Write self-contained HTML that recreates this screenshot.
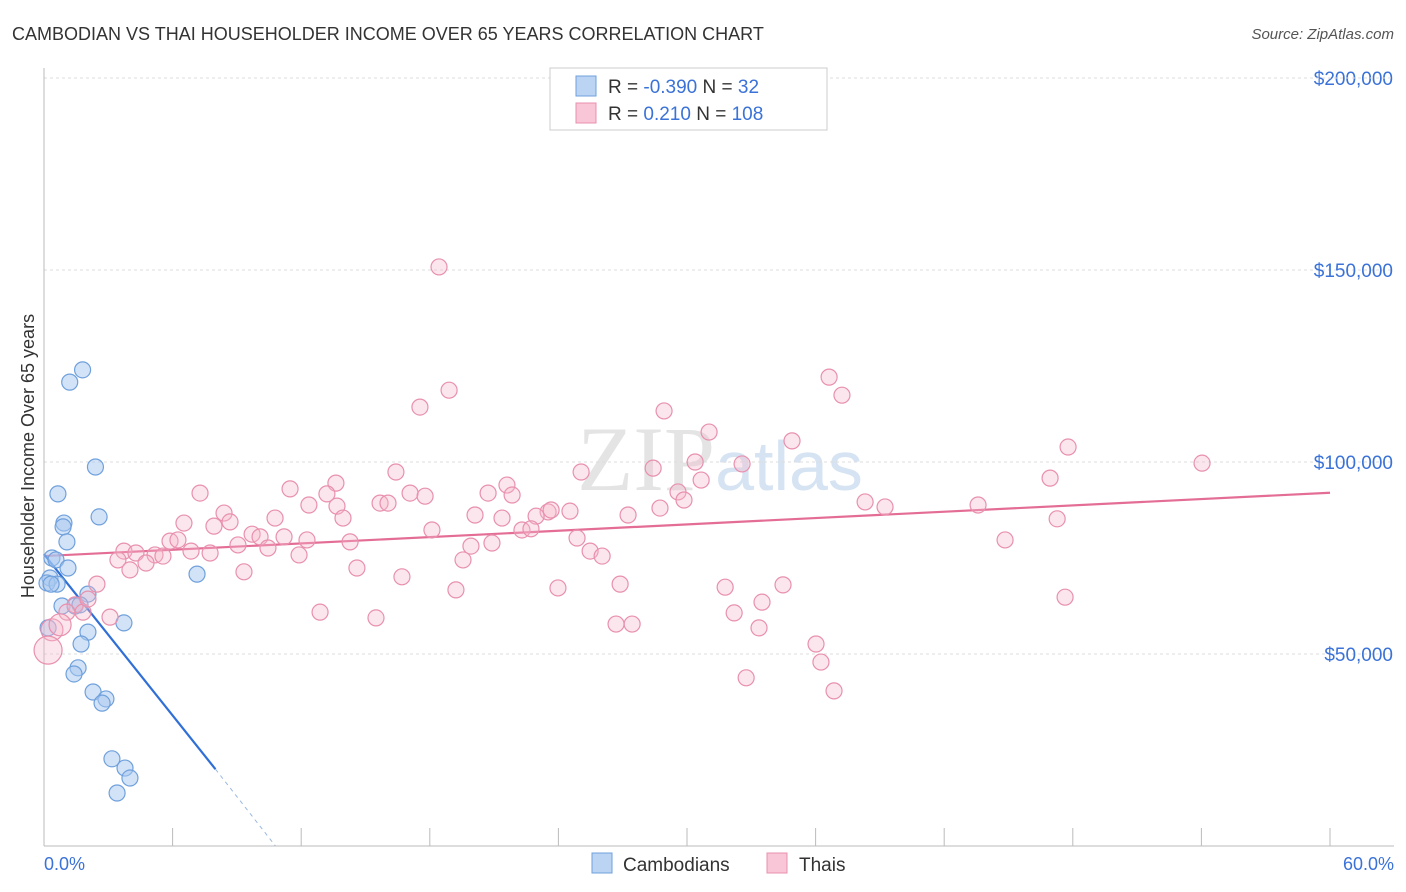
<!DOCTYPE html>
<html><head><meta charset="utf-8">
<style>
body{margin:0;background:#fff;font-family:"Liberation Sans",sans-serif;}
svg{display:block}
</style></head>
<body>
<svg id="chart" width="1406" height="892">
<text x="12" y="40" font-size="18" fill="#333">CAMBODIAN VS THAI HOUSEHOLDER INCOME OVER 65 YEARS CORRELATION CHART</text>
<text x="1394" y="39" font-size="15" fill="#555" font-style="italic" text-anchor="end">Source: ZipAtlas.com</text>
<text x="720" y="490" font-size="92" fill="#e4e4e4" text-anchor="middle" font-family="Liberation Serif">ZIP<tspan fill="#d5e3f3" font-family="Liberation Sans" font-size="70">atlas</tspan></text>
<g id="grid"></g><g id="axes"></g><g id="lines"></g><g id="pts"></g>
<text transform="translate(34,456) rotate(-90)" font-size="18" fill="#333" text-anchor="middle">Householder Income Over 65 years</text>
<text x="44" y="870" font-size="18" fill="#3a72d8">0.0%</text>
<text x="1394" y="870" font-size="18" fill="#3a72d8" text-anchor="end">60.0%</text>
<g>
<rect x="550" y="68" width="277" height="62" fill="#fff" stroke="#ccc"/>
<rect x="576" y="76" width="20" height="20" fill="#bcd4f4" stroke="#6fa0dc"/>
<text x="608" y="93" font-size="19" fill="#333">R = <tspan fill="#3a72d8">-0.390</tspan>   N =  <tspan fill="#3a72d8">32</tspan></text>
<rect x="576" y="103" width="20" height="20" fill="#f8c6d6" stroke="#e890ad"/>
<text x="608" y="120" font-size="19" fill="#333">R =  <tspan fill="#3a72d8"> 0.210</tspan>   N = <tspan fill="#3a72d8">108</tspan></text>
</g>
<g>
<rect x="592" y="853" width="20" height="20" fill="#bcd4f4" stroke="#6fa0dc"/>
<text x="623" y="871" font-size="19" fill="#333">Cambodians</text>
<rect x="767" y="853" width="20" height="20" fill="#f8c6d6" stroke="#e890ad"/>
<text x="799" y="871" font-size="19" fill="#333">Thais</text>
</g>
</svg>
<script>
const yTicks=[50000,100000,150000,200000];
const yTickLabels=["$50,000","$100,000","$150,000","$200,000"];
const xTicks=[0,6,12,18,24,30,36,42,48,54,60];
const camX=[1.8,1.2,2.4,0.65,2.57,0.93,0.89,1.07,0.37,0.56,1.12,0.28,0.14,0.61,0.33,7.14,2.05,0.84,1.45,1.68,3.73,2.05,0.19,1.73,1.59,1.40,2.29,2.89,2.71,3.17,3.78,4.01,3.41];
const camY=[124000,120800,98700,91700,85700,84100,83100,79200,75000,74500,72400,69800,68500,68200,68200,70800,65600,62500,62500,62800,58100,55700,56800,52600,46400,44800,40100,38300,37200,22700,20300,17700,13800];
const thaiX=[18.43,18.90,17.54,36.63,37.23,28.93,31.03,34.90,47.78,54.03,32.57,30.38,28.42,25.06,16.42,46.94,30.66,13.62,21.60,7.28,11.48,13.20,17.08,17.78,20.72,21.84,29.58,29.86,8.40,12.36,13.67,15.68,16.05,38.31,39.24,43.58,28.74,24.54,23.52,23.66,22.96,20.11,21.37,27.25,10.78,13.95,6.53,7.93,8.68,18.10,22.30,22.72,9.71,11.20,12.27,14.28,24.87,47.27,44.84,5.88,6.25,10.08,9.05,10.45,20.90,19.92,3.73,4.29,5.18,5.55,6.86,7.75,11.90,25.48,26.04,19.55,4.76,3.45,14.60,9.33,16.70,2.47,4.01,26.88,23.98,31.78,34.48,19.22,47.64,12.88,33.50,32.20,15.49,26.69,27.44,3.08,1.45,1.82,2.05,1.07,33.36,36.02,36.25,32.76,36.86,0.37,0.19,0.75];
const thaiY=[150800,118700,114300,122100,117400,113300,107800,105500,103900,99700,99500,100000,98400,97400,97400,95800,95300,94500,94000,91900,93000,91700,91900,91100,91900,91400,92200,90100,86700,88800,88500,89300,89300,89600,88300,88800,88000,87200,87000,87500,85900,86200,85400,86200,85400,85400,84100,83300,84400,82300,82300,82600,81200,80500,79700,79200,80200,85200,79700,79400,79700,80500,78400,77600,78900,78100,76800,76300,75800,75500,76800,76300,75800,76800,75500,74500,73700,74500,72400,71400,70100,68200,71900,68200,67200,67400,68000,66700,64800,60900,63500,60700,59400,57800,57800,59600,62800,60900,64300,60900,56800,52600,47900,43800,40400,56300,51000,57600];
const thaiR=[];thaiY.forEach((v,i)=>thaiR.push(i===106?14:(i===105||i===107?11:8)));
const thaiTrend=[75500,92000];
const camTrend=[76000,20000,0];
const camTrendX=[0,8,10.8];
const NS="http://www.w3.org/2000/svg";
const X0=44,X1=1330,Y0=846,PX=192/50000;
const sx=v=>X0+(v/60)*(X1-X0), sy=v=>Y0-v*PX;
function mk(tag,attrs,parent){const e=document.createElementNS(NS,tag);for(const k in attrs)e.setAttribute(k,attrs[k]);document.getElementById(parent).appendChild(e);return e;}
yTicks.forEach((t,i)=>{
 const l=mk('line',{x1:44,x2:1394,y1:sy(t),y2:sy(t),stroke:'#ddd','stroke-dasharray':'3,3'},'grid');
 
 
 const tx=mk('text',{x:1393,y:sy(t)+7,'font-size':19,fill:'#3a72d8','text-anchor':'end'},'grid');
 tx.textContent=yTickLabels[i];
 
 
});
const tg=mk('line',{x1:44,x2:1394,y1:78,y2:78,stroke:'#ddd','stroke-dasharray':'3,3'},'grid');


const ya=mk('line',{x1:44,x2:44,y1:68,y2:846,stroke:'#bbb'},'axes');


const xa=mk('line',{x1:44,x2:1394,y1:846,y2:846,stroke:'#bbb'},'axes');


xTicks.forEach(t=>{
 const l=mk('line',{x1:sx(t),x2:sx(t),y1:828,y2:846,stroke:'#bbb'},'axes');
 
 
});
camX.forEach((x,i)=>{
 const c=mk('circle',{cx:sx(x),cy:sy(camY[i]),r:8,fill:'rgba(168,200,240,0.5)',stroke:'#6fa0dc','stroke-width':1.2},'pts');
 
 
});
thaiX.forEach((x,i)=>{
 const c=mk('circle',{cx:sx(x),cy:sy(thaiY[i]),r:thaiR[i],fill:'rgba(245,184,203,0.35)',stroke:'#e890ad','stroke-width':1.2},'pts');
 
 
});
const pl=mk('line',{x1:sx(0),y1:sy(thaiTrend[0]),x2:sx(60),y2:sy(thaiTrend[1]),stroke:'#e46d96','stroke-width':2.2},'lines');


const bl=mk('line',{x1:sx(camTrendX[0]),y1:sy(camTrend[0]),x2:sx(camTrendX[1]),y2:sy(camTrend[1]),stroke:'#2f6fd6','stroke-width':2.2},'lines');


const bd=mk('line',{x1:sx(camTrendX[1]),y1:sy(camTrend[1]),x2:sx(camTrendX[2]),y2:sy(camTrend[2]),stroke:'#9bb8e0','stroke-width':1,'stroke-dasharray':'4,4'},'lines');


</script>
</body></html>
